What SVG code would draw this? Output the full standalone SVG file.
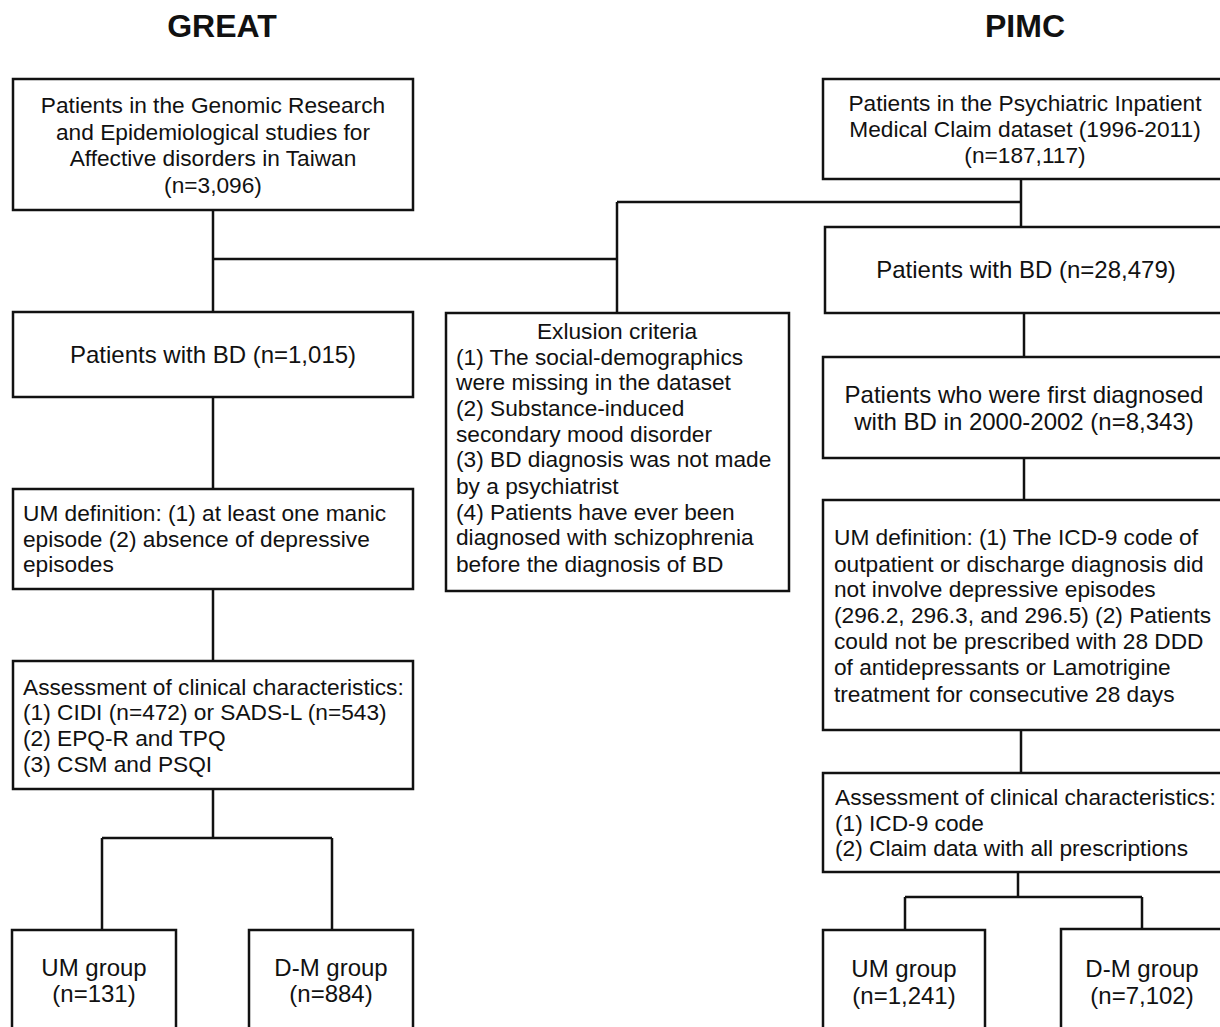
<svg xmlns="http://www.w3.org/2000/svg" width="1220" height="1027" viewBox="0 0 1220 1027">
<style>
  .box { fill: #fff; stroke: #111; stroke-width: 2.5; }
  .ln { fill: none; stroke: #111; stroke-width: 2.5; }
  text { font-family: "Liberation Sans", Arial, sans-serif; font-size: 22.7px; fill: #111; }
  .c { text-anchor: middle; }
  .big { font-size: 24px; }
  .title { font-weight: bold; font-size: 32px; }
</style>
<rect x="0" y="0" width="1220" height="1027" fill="#fff"/>
<g id="titles">
  <text class="c title" x="222" y="37">GREAT</text>
  <text class="c title" x="1025" y="37">PIMC</text>
</g>
<g id="connectors">
  <path class="ln" d="M213 210 V312"/>
  <path class="ln" d="M213 259 H617"/>
  <path class="ln" d="M617 202 V313"/>
  <path class="ln" d="M617 202 H1021"/>
  <path class="ln" d="M1021 179 V227"/>
  <path class="ln" d="M1024 313 V357"/>
  <path class="ln" d="M1024 458 V500"/>
  <path class="ln" d="M1021 730 V773"/>
  <path class="ln" d="M1018 872 V897 M905 897 H1142 M905 897 V930 M1142 897 V930"/>
  <path class="ln" d="M213 397 V489"/>
  <path class="ln" d="M213 589 V661"/>
  <path class="ln" d="M213 789 V838 M102 838 H332 M102 838 V930 M332 838 V930"/>
</g>
<g id="great-start">
  <rect class="box" x="13" y="79" width="400" height="131"/>
  <text class="c" x="213" y="113">Patients in the Genomic Research</text>
  <text class="c" x="213" y="140">and Epidemiological studies for</text>
  <text class="c" x="213" y="166">Affective disorders in Taiwan</text>
  <text class="c" x="213" y="193">(n=3,096)</text>
</g>
<g id="pimc-start">
  <rect class="box" x="823" y="79" width="410" height="100"/>
  <text class="c" x="1025" y="111">Patients in the Psychiatric Inpatient</text>
  <text class="c" x="1025" y="137">Medical Claim dataset (1996-2011)</text>
  <text class="c" x="1025" y="163">(n=187,117)</text>
</g>
<g id="pimc-bd">
  <rect class="box" x="825" y="227" width="410" height="86"/>
  <text class="c big" x="1026" y="278">Patients with BD (n=28,479)</text>
</g>
<g id="great-bd">
  <rect class="box" x="13" y="312" width="400" height="85"/>
  <text class="c big" x="213" y="363">Patients with BD (n=1,015)</text>
</g>
<g id="exclusion">
  <rect class="box" x="446" y="313" width="343" height="278"/>
  <text class="c" x="617" y="339">Exlusion criteria</text>
  <text x="456" y="365">(1) The social-demographics</text>
  <text x="456" y="390">were missing in the dataset</text>
  <text x="456" y="416">(2) Substance-induced</text>
  <text x="456" y="442">secondary mood disorder</text>
  <text x="456" y="467">(3) BD diagnosis was not made</text>
  <text x="456" y="494">by a psychiatrist</text>
  <text x="456" y="520">(4) Patients have ever been</text>
  <text x="456" y="545">diagnosed with schizophrenia</text>
  <text x="456" y="572">before the diagnosis of BD</text>
</g>
<g id="pimc-first">
  <rect class="box" x="823" y="357" width="410" height="101"/>
  <text class="c big" x="1024" y="403">Patients who were first diagnosed</text>
  <text class="c big" x="1024" y="430">with BD in 2000-2002 (n=8,343)</text>
</g>
<g id="great-um">
  <rect class="box" x="13" y="489" width="400" height="100"/>
  <text x="23" y="521">UM definition: (1) at least one manic</text>
  <text x="23" y="547">episode (2) absence of depressive</text>
  <text x="23" y="572">episodes</text>
</g>
<g id="pimc-um">
  <rect class="box" x="823" y="500" width="410" height="230"/>
  <text x="834" y="545">UM definition: (1) The ICD-9 code of</text>
  <text x="834" y="572">outpatient or discharge diagnosis did</text>
  <text x="834" y="597">not involve depressive episodes</text>
  <text x="834" y="623">(296.2, 296.3, and 296.5) (2) Patients</text>
  <text x="834" y="649">could not be prescribed with 28 DDD</text>
  <text x="834" y="675">of antidepressants or Lamotrigine</text>
  <text x="834" y="702">treatment for consecutive 28 days</text>
</g>
<g id="great-assess">
  <rect class="box" x="13" y="661" width="400" height="128"/>
  <text x="23" y="695">Assessment of clinical characteristics:</text>
  <text x="23" y="720">(1) CIDI (n=472) or SADS-L (n=543)</text>
  <text x="23" y="746">(2) EPQ-R and TPQ</text>
  <text x="23" y="772">(3) CSM and PSQI</text>
</g>
<g id="pimc-assess">
  <rect class="box" x="823" y="773" width="410" height="99"/>
  <text x="835" y="805">Assessment of clinical characteristics:</text>
  <text x="835" y="831">(1) ICD-9 code</text>
  <text x="835" y="856">(2) Claim data with all prescriptions</text>
</g>
<g id="great-umgroup">
  <rect class="box" x="12" y="930" width="164" height="120"/>
  <text class="c big" x="94" y="976">UM group</text>
  <text class="c big" x="94" y="1002">(n=131)</text>
</g>
<g id="great-dmgroup">
  <rect class="box" x="249" y="930" width="164" height="120"/>
  <text class="c big" x="331" y="976">D-M group</text>
  <text class="c big" x="331" y="1002">(n=884)</text>
</g>
<g id="pimc-umgroup">
  <rect class="box" x="823" y="930" width="162" height="120"/>
  <text class="c big" x="904" y="977">UM group</text>
  <text class="c big" x="904" y="1004">(n=1,241)</text>
</g>
<g id="pimc-dmgroup">
  <rect class="box" x="1061" y="929" width="170" height="120"/>
  <text class="c big" x="1142" y="977">D-M group</text>
  <text class="c big" x="1142" y="1004">(n=7,102)</text>
</g>
</svg>
